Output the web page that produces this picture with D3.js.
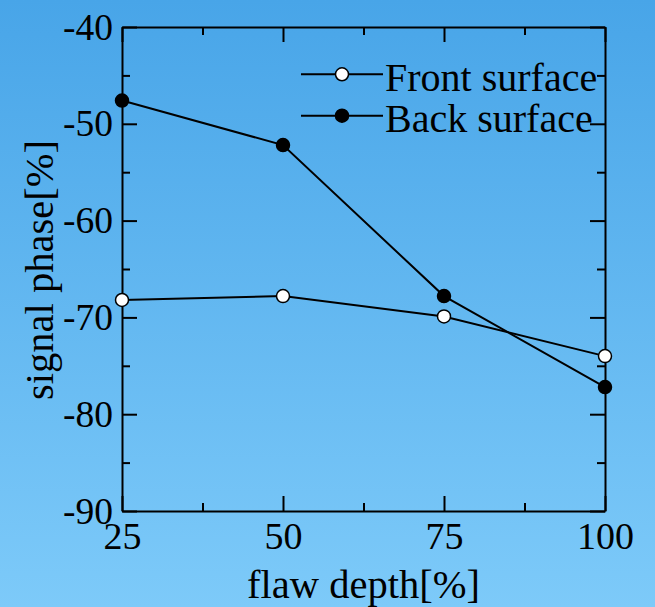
<!DOCTYPE html>
<html>
<head>
<meta charset="utf-8">
<script src="https://cdn.jsdelivr.net/npm/d3@7"></script>
<style>
  html, body { margin: 0; padding: 0; }
  body { width: 655px; height: 607px; overflow: hidden; }
  svg { display: block; }
  svg text { font-family: "Liberation Serif", "DejaVu Serif", serif; }
</style>
</head>
<body>
<svg id="chart" width="655" height="607"></svg>
<script>
// Flaw depth vs. signal phase for front- and back-surface flaws
const depths = [25, 50, 75, 100];
const frontPhase = [-68.2, -67.8, -69.9, -74.0];
const backPhase = [-47.6, -52.2, -67.8, -77.2];
const seriesNames = ["Front surface", "Back surface"];
const xTicks = [25, 50, 75, 100];
const xMinorTicks = [37.5, 62.5, 87.5];
const yTicks = [-90, -80, -70, -60, -50, -40];
const yMinorTicks = [-85, -75, -65, -55, -45];

const W = 655, H = 607;
const margin = { left: 122, right: 50, top: 27, bottom: 96 };
const svg = d3.select("#chart");
const font = "Liberation Serif, DejaVu Serif, serif";

// background gradient
const defs = svg.append("defs");
const grad = defs.append("linearGradient")
  .attr("id", "bg").attr("x1", 0).attr("y1", 0).attr("x2", 0).attr("y2", 1);
grad.append("stop").attr("offset", "0%").attr("stop-color", "#48a5e8");
grad.append("stop").attr("offset", "100%").attr("stop-color", "#7dcaf9");
svg.append("rect").attr("width", W).attr("height", H).attr("fill", "url(#bg)");

const x = d3.scaleLinear().domain([25, 100]).range([margin.left, W - margin.right]);
const y = d3.scaleLinear().domain([-90, -40]).range([H - margin.bottom, margin.top]);

const x0 = x.range()[0], x1 = x.range()[1];
const y0 = y.range()[0], y1 = y.range()[1];

function styleAxis(g) {
  g.attr("font-family", font);
  g.selectAll("path.domain").attr("stroke", "#000").attr("stroke-width", 2);
  g.selectAll(".tick line").attr("stroke", "#000").attr("stroke-width", 2);
  g.selectAll(".tick text").attr("fill", "#000").attr("font-family", font);
}

// major axes with inward ticks
const axBottom = svg.append("g").attr("transform", `translate(0,${y0})`)
  .call(d3.axisBottom(x).tickValues(xTicks).tickSize(-15).tickSizeOuter(0).tickPadding(10).tickFormat(d3.format("d")));
axBottom.selectAll(".tick text").attr("font-size", 38).attr("dy", "0.74em");
styleAxis(axBottom);

const axLeft = svg.append("g").attr("transform", `translate(${x0},0)`)
  .call(d3.axisLeft(y).tickValues(yTicks).tickSize(-15).tickSizeOuter(0).tickPadding(9).tickFormat(d => String(d)));
axLeft.selectAll(".tick text").attr("font-size", 37.5).attr("dy", "0.32em");
styleAxis(axLeft);

const axTop = svg.append("g").attr("transform", `translate(0,${y1})`)
  .call(d3.axisTop(x).tickValues(xTicks).tickSize(-15).tickSizeOuter(0).tickFormat(""));
styleAxis(axTop);

const axRight = svg.append("g").attr("transform", `translate(${x1},0)`)
  .call(d3.axisRight(y).tickValues(yTicks).tickSize(-15).tickSizeOuter(0).tickFormat(""));
styleAxis(axRight);

// minor ticks
[[d3.axisBottom(x).tickValues(xMinorTicks), `translate(0,${y0})`],
 [d3.axisTop(x).tickValues(xMinorTicks), `translate(0,${y1})`],
 [d3.axisLeft(y).tickValues(yMinorTicks), `translate(${x0},0)`],
 [d3.axisRight(y).tickValues(yMinorTicks), `translate(${x1},0)`]].forEach(([ax, tr]) => {
  const g = svg.append("g").attr("transform", tr)
    .call(ax.tickSize(-8).tickSizeOuter(0).tickFormat(""));
  g.select("path.domain").remove();
  styleAxis(g);
});

// axis titles
svg.append("text")
  .attr("x", (x0 + x1) / 2).attr("y", 597.5)
  .attr("text-anchor", "middle")
  .attr("font-family", font).attr("font-size", 40.5)
  .text("flaw depth[%]");

svg.append("text")
  .attr("transform", `translate(53,${(y0 + y1) / 2 + 1}) rotate(-90)`)
  .attr("text-anchor", "middle")
  .attr("font-family", font).attr("font-size", 40.5)
  .text("signal phase[%]");

// data series
const series = [
  { name: seriesNames[0], values: frontPhase, fill: "#fff" },
  { name: seriesNames[1], values: backPhase, fill: "#000" }
];
const line = d3.line().x(d => x(d[0])).y(d => y(d[1]));

series.forEach(s => {
  const pts = depths.map((d, i) => [d, s.values[i]]);
  svg.append("path").datum(pts)
    .attr("d", line).attr("fill", "none")
    .attr("stroke", "#000").attr("stroke-width", 2);
  svg.append("g").selectAll("circle").data(pts).join("circle")
    .attr("cx", d => x(d[0])).attr("cy", d => y(d[1])).attr("r", 6.5)
    .attr("fill", s.fill).attr("stroke", "#000").attr("stroke-width", 1.5);
});

// legend
const legend = svg.append("g");
series.forEach((s, i) => {
  const ly = 74.3 + i * 41.4;
  legend.append("line").attr("x1", 301).attr("x2", 383).attr("y1", ly).attr("y2", ly)
    .attr("stroke", "#000").attr("stroke-width", 2);
  legend.append("circle").attr("cx", 342).attr("cy", ly).attr("r", 6.5)
    .attr("fill", s.fill).attr("stroke", "#000").attr("stroke-width", 1.5);
  legend.append("text").attr("x", 385).attr("y", ly + 16.5)
    .attr("font-family", font).attr("font-size", 40)
    .text(s.name);
});
</script>
</body>
</html>
